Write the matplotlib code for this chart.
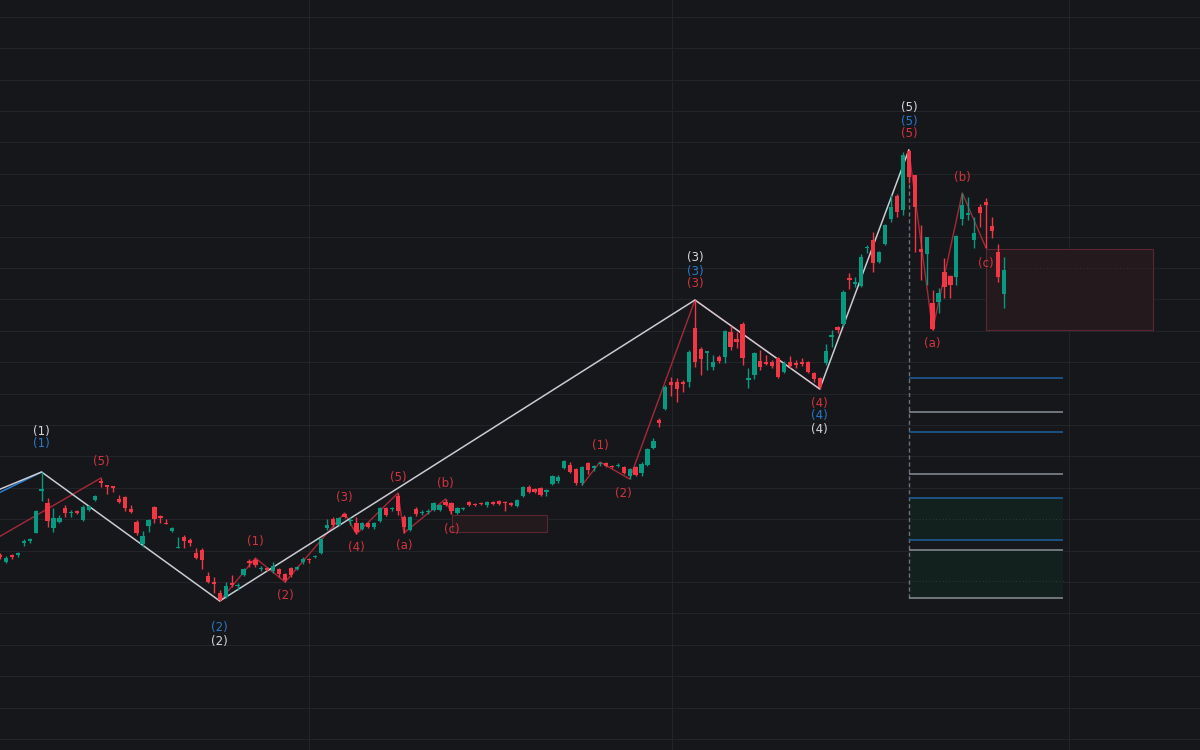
import numpy as np
import matplotlib.pyplot as plt
from matplotlib.patches import Rectangle

# OHLC (arbitrary price units, one candle per bar)
opens = [195, 188, 195, 195, 207, 209, 217, 259, 247, 222, 228, 242, 237, 239, 230, 240, 250, 269, 265, 264,
         251, 253, 241, 228, 206, 224, 243, 234, 227, 219, 202, 213, 210, 197, 200, 174, 168, 157, 153, 167,
         164, 175, 189, 190, 181, 182, 179, 181, 176, 182, 181, 188, 191, 193, 197, 222, 231, 225, 236, 229,
         227, 221, 227, 223, 229, 242, 241, 254, 233, 220, 241, 237, 238, 240, 240, 248, 247, 237, 241, 248,
         246, 247, 245, 248, 249, 248, 247, 244, 254, 263, 261, 262, 258, 266, 269, 282, 285, 281, 267, 287,
         282, 286, 287, 284, 284, 283, 274, 283, 277, 285, 302, 330, 341, 368, 368, 368, 368, 422, 401, 397,
         383, 393, 393, 418, 411, 426, 370, 375, 389, 388, 388, 392, 378, 388, 387, 388, 388, 377, 372, 387,
         413, 423, 426, 472, 466, 464, 502, 510, 488, 506, 531, 554, 540, 599, 575, 501, 496, 447, 448, 478,
         474, 473, 531, 535, 510, 543, 548, 524, 498, 456]
highs = [197, 194, 196, 198, 211, 212, 240, 278, 252, 242, 235, 245, 240, 240, 245, 245, 255, 272, 265, 264,
         255, 254, 245, 230, 219, 231, 244, 235, 231, 223, 213, 215, 212, 202, 202, 178, 173, 160, 168, 175,
         167, 182, 191, 192, 184, 183, 188, 182, 177, 183, 184, 193, 192, 195, 212, 231, 233, 233, 237, 233,
         233, 228, 228, 228, 243, 243, 243, 257, 235, 234, 243, 240, 241, 248, 246, 251, 248, 243, 243, 249,
         247, 248, 249, 249, 250, 249, 248, 251, 264, 265, 262, 263, 261, 275, 275, 290, 288, 282, 284, 288,
         285, 288, 288, 285, 287, 284, 282, 284, 288, 302, 312, 332, 365, 373, 372, 370, 400, 450, 403, 399,
         395, 395, 420, 424, 418, 428, 382, 398, 400, 395, 390, 393, 389, 394, 390, 392, 389, 378, 373, 406,
         420, 424, 460, 477, 473, 496, 505, 518, 499, 526, 555, 556, 598, 600, 575, 525, 513, 460, 462, 492,
         475, 515, 557, 553, 533, 546, 552, 533, 506, 493]
lows = [191, 187, 191, 193, 204, 207, 217, 249, 223, 218, 227, 233, 233, 236, 229, 239, 249, 263, 256, 258,
        247, 239, 237, 215, 203, 218, 227, 227, 226, 218, 202, 202, 204, 191, 181, 167, 157, 149, 152, 163,
        160, 174, 183, 183, 179, 179, 177, 173, 168, 173, 180, 186, 187, 192, 196, 220, 223, 224, 232, 225,
        216, 220, 222, 221, 228, 234, 239, 235, 217, 219, 234, 235, 236, 239, 239, 244, 236, 236, 240, 244,
        244, 245, 243, 245, 245, 239, 244, 243, 253, 257, 257, 254, 254, 265, 267, 281, 277, 265, 265, 276,
        279, 284, 283, 282, 283, 276, 271, 274, 274, 284, 301, 323, 340, 354, 348, 358, 363, 383, 375, 380,
        380, 387, 387, 400, 402, 385, 362, 371, 380, 385, 382, 372, 377, 382, 382, 384, 377, 368, 361, 385,
        403, 417, 424, 461, 463, 463, 497, 478, 487, 505, 528, 533, 535, 567, 498, 470, 465, 420, 437, 452,
        452, 465, 525, 530, 502, 523, 502, 512, 468, 442]
closes = [193, 192, 193, 197, 209, 211, 239, 261, 229, 232, 232, 237, 238, 237, 243, 244, 254, 267, 263, 262,
          248, 242, 238, 217, 214, 230, 231, 232, 226, 222, 203, 209, 207, 192, 190, 168, 166, 150, 164, 165,
          165, 181, 187, 185, 182, 180, 184, 176, 170, 175, 183, 191, 190, 194, 211, 225, 225, 232, 233, 230,
          218, 227, 223, 227, 242, 235, 242, 239, 223, 233, 236, 238, 239, 247, 245, 245, 239, 242, 242, 245,
          245, 246, 248, 246, 246, 247, 245, 250, 263, 258, 258, 255, 260, 274, 273, 289, 278, 267, 283, 280,
          284, 287, 284, 283, 285, 277, 281, 275, 286, 301, 309, 327, 363, 365, 361, 366, 398, 388, 391, 399,
          388, 389, 419, 403, 408, 392, 372, 397, 383, 386, 384, 373, 387, 384, 385, 386, 378, 371, 363, 399,
          415, 420, 458, 470, 468, 493, 503, 487, 498, 525, 543, 538, 595, 573, 543, 498, 513, 421, 457, 463,
          465, 514, 545, 537, 517, 537, 545, 519, 473, 480]

# Elliott wave pivots (bar index, price)
white_x = [-4, 7, 37, 117, 138, 153]
white_y = [251, 278, 149, 450, 361, 600]
blue_x = [-4, 7]
blue_y = [246, 278]
red_lead_x = [-4, 17]
red_lead_y = [200, 272]
red_sub1_x = [37, 43, 48, 58, 60, 67, 68, 75, 76]
red_sub1_y = [149, 192, 168, 237, 216, 257, 217, 251, 236]
red_sub2_x = [98, 101, 106, 117, 138]
red_sub2_y = [265, 288, 271, 450, 361]
red_sub3_x = [153, 157, 162, 166]
red_sub3_y = [600, 420, 557, 502]

# labels: (bar, price, text, colour)
WH, BL, RD = '#d6d8de', '#2a78c8', '#d5343f'
labels = [
    (7, 319, '(1)', WH), (7, 306, '(1)', BL),
    (17, 288, '(5)', RD),
    (37, 122, '(2)', BL), (37, 108, '(2)', WH),
    (43, 208, '(1)', RD), (48, 154, '(2)', RD), (58, 253, '(3)', RD), (60, 202, '(4)', RD),
    (67, 272, '(5)', RD), (68, 204, '(a)', RD), (75, 267, '(b)', RD), (76, 221, '(c)', RD),
    (101, 304, '(1)', RD), (105, 257, '(2)', RD),
    (117, 492, '(3)', WH), (117, 479, '(3)', BL), (117, 466, '(3)', RD),
    (138, 347, '(4)', RD), (138, 334, '(4)', BL), (138, 320, '(4)', WH),
    (153, 643, '(5)', WH), (153, 629, '(5)', BL), (153, 616, '(5)', RD),
    (157, 407, '(a)', RD), (162, 573, '(b)', RD), (166, 486, '(c)', RD),
]

# fib levels to the right of the (5) top
fib_levels = [372, 338, 318, 276, 252, 210, 200, 152]
fib_colors = ['#1f5f9e', '#8a8e96', '#1f5f9e', '#8a8e96', '#1f5f9e', '#1f5f9e', '#8a8e96', '#8a8e96']
month_lines = [52.0, 113.1, 180.0]

BG = '#16171b'
UP, DN = '#089981', '#f23645'
step = 5.94   # px per bar

fig = plt.figure(figsize=(12, 7.5), dpi=100, facecolor=BG)
ax = fig.add_axes([0, 0, 1, 1])
ax.set_facecolor(BG)
ax.set_xlim(0, 1200 / step)
ax.set_ylim(0, 750)
ax.axis('off')

# grid
for gy in np.arange(733.2, 0, -31.4):
    ax.axhline(gy, color='#22242a', lw=0.8, zorder=0)
for gx in month_lines:
    ax.axvline(gx, color='#22242a', lw=0.8, zorder=0)

# fib zones
x0, x1 = 153, 179
ax.add_patch(Rectangle((x0, 210), x1 - x0, 42, facecolor='#13211e', edgecolor='none', zorder=1))
ax.add_patch(Rectangle((x0, 152), x1 - x0, 48, facecolor='#13211e', edgecolor='none', zorder=1))
ax.hlines([231, 169], x0, x1, colors='#2c4a40', lw=0.6, linestyles=(0, (1, 3)), zorder=1)
ax.hlines(fib_levels, x0, x1, colors=fib_colors, lw=1.1, zorder=2)
ax.vlines(x0, 152, 600, colors='#6b7079', lw=1.0, linestyles=(0, (3, 2)), zorder=1)

# target boxes
ax.add_patch(Rectangle((166, 420), 28.1, 81, facecolor='#241a1e', edgecolor='#5a2630', lw=0.8, zorder=1))
ax.hlines(482, 170, 194, colors='#4a3036', lw=0.6, linestyles=(0, (1, 3)), zorder=1)
ax.add_patch(Rectangle((76.1, 218), 16, 17, facecolor='#231a1d', edgecolor='#5a2630', lw=0.8, zorder=1))

# wave lines
ax.plot(red_lead_x, red_lead_y, color='#a52a38', lw=1.0, zorder=3)
ax.plot(blue_x, blue_y, color='#2a7fd6', lw=1.1, zorder=3)
ax.plot(white_x, white_y, color='#c9ccd3', lw=1.1, zorder=4)
for xs, ys in [(red_sub1_x, red_sub1_y), (red_sub2_x, red_sub2_y), (red_sub3_x, red_sub3_y)]:
    ax.plot(xs, ys, color='#a52a38', lw=1.0, zorder=3)

# candles
o, h, l, c = map(np.array, (opens, highs, lows, closes))
idx = np.arange(len(o))
col = np.where(c >= o, UP, DN)
ax.vlines(idx, l, h, colors=col, lw=1.0, zorder=5)
bot = np.minimum(o, c)
ht = np.maximum(np.abs(c - o), 1.5)
ax.bar(idx, ht, bottom=bot, width=0.72, color=col, edgecolor='none', zorder=6)

for bx, py, t, cl in labels:
    ax.text(bx, py, t, color=cl, fontsize=8.5, ha='center', va='center',
            family='DejaVu Sans', zorder=7)

fig.savefig('out.png', dpi=100, facecolor=BG)
